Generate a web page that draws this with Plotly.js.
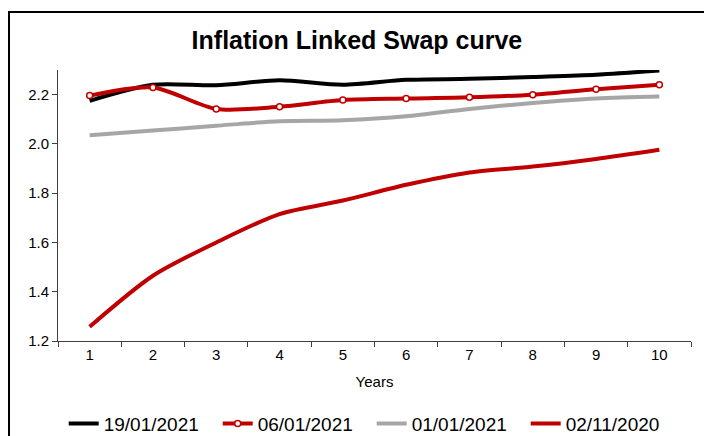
<!DOCTYPE html>
<html>
<head>
<meta charset="utf-8">
<script src="https://cdn.plot.ly/plotly-3.0.1.min.js"></script>
<style>
html,body{margin:0;padding:0;background:#fff;overflow:hidden;}
#wrap{position:relative;width:704px;height:436px;}
#chart{width:704px;height:436px;}
#frame{position:absolute;left:8px;top:11px;width:800px;height:600px;border:2px solid #000;pointer-events:none;}
</style>
</head>
<body>
<div id="wrap"><div id="chart"></div><div id="frame"></div></div>
<script>
const years = ["1","2","3","4","5","6","7","8","9","10"];
const s19Jan2021 = [2.175, 2.240, 2.238, 2.258, 2.240, 2.260, 2.264, 2.272, 2.281, 2.298];
const s06Jan2021 = [2.196, 2.229, 2.142, 2.151, 2.178, 2.184, 2.189, 2.200, 2.222, 2.240];
const s01Jan2021 = [2.035, 2.054, 2.074, 2.092, 2.096, 2.112, 2.142, 2.166, 2.184, 2.192];
const s02Nov2020 = [1.258, 1.465, 1.600, 1.715, 1.770, 1.834, 1.884, 1.908, 1.939, 1.976];
const seriesNames = ["19/01/2021", "06/01/2021", "01/01/2021", "02/11/2020"];

const font = "Liberation Sans, Arial, sans-serif";

const traces = [
  {x: years, y: s19Jan2021, name: seriesNames[0], mode: "lines",
   line: {color: "#000000", width: 4, shape: "spline", smoothing: 0.8}},
  {x: years, y: s06Jan2021, name: seriesNames[1], mode: "lines+markers",
   line: {color: "#C00000", width: 4, shape: "spline", smoothing: 0.8},
   marker: {symbol: "circle", size: 6, color: "#ffffff", line: {color: "#C00000", width: 1.5}}},
  {x: years, y: s01Jan2021, name: seriesNames[2], mode: "lines",
   line: {color: "#A6A6A6", width: 4, shape: "spline", smoothing: 0.8}},
  {x: years, y: s02Nov2020, name: seriesNames[3], mode: "lines",
   line: {color: "#C00000", width: 4, shape: "spline", smoothing: 0.8}}
];

const layout = {
  width: 704, height: 436,
  margin: {l: 58, r: 13, t: 70, b: 95, autoexpand: false},
  paper_bgcolor: "#ffffff", plot_bgcolor: "#ffffff",
  font: {family: font, color: "#000000", size: 15},
  title: {text: "<b>Inflation Linked Swap curve</b>", xref: "container", x: 0.507, xanchor: "center",
          yref: "container", y: 0.908, yanchor: "middle",
          font: {family: font, size: 25, color: "#000000"}},
  xaxis: {type: "category", range: [-0.5, 9.5], showgrid: false, zeroline: false,
          showline: true, linecolor: "#404040", linewidth: 1,
          ticks: "outside", tickson: "boundaries", ticklen: 5, tickcolor: "#404040",
          tickfont: {family: font, size: 15}, ticklabelstandoff: 0,
          title: {text: "Years", font: {family: font, size: 15}, standoff: 14}},
  yaxis: {range: [1.2, 2.3], dtick: 0.2, tick0: 1.2, tickformat: ".1f", showgrid: false, zeroline: false,
          showline: true, linecolor: "#404040", linewidth: 1,
          ticks: "outside", ticklen: 5, tickcolor: "#404040",
          tickfont: {family: font, size: 15}},
  showlegend: true,
  legend: {orientation: "h", x: 0.009, xanchor: "left", xref: "paper", y: -0.305, yanchor: "middle",
           font: {family: font, size: 19}, itemwidth: 30, entrywidth: 109, entrywidthmode: "pixels",
           tracegroupgap: 0, bgcolor: "rgba(0,0,0,0)"}
};

Plotly.newPlot("chart", traces, layout, {staticPlot: true, displayModeBar: false});
</script>
</body>
</html>
